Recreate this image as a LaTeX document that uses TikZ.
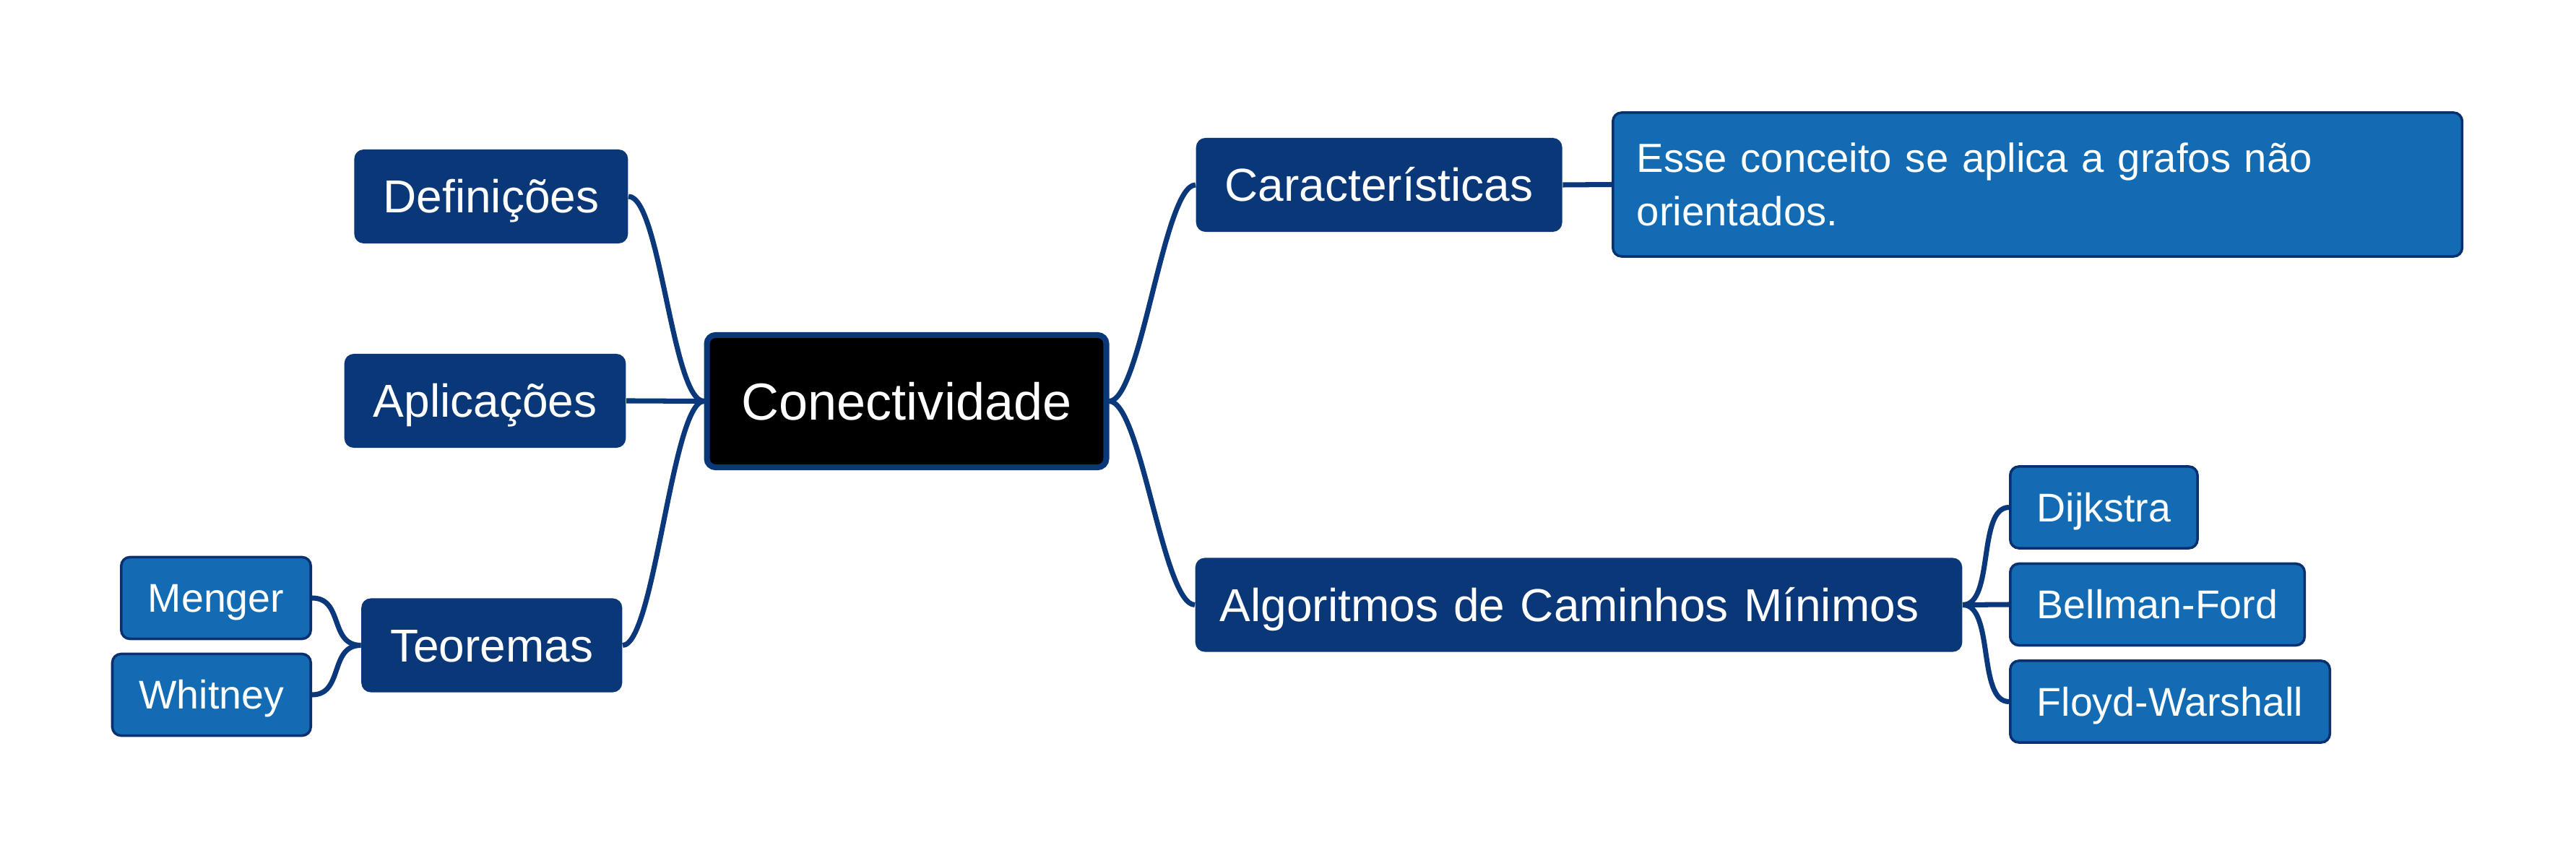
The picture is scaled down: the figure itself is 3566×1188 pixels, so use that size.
\documentclass[tikz,border=0pt]{standalone}
\usepackage{fontspec}
\setmainfont{Liberation Sans}
\definecolor{mapdark}{HTML}{0A3777}
\definecolor{mapmid}{HTML}{126BB3}
\definecolor{mapline}{HTML}{0B387A}
\definecolor{mapedge}{HTML}{0A3070}
\tikzset{
  rootbox/.style={draw=mapdark, line width=2.3pt, fill=black, rounded corners=0.12cm,
    text=white, font=\fontsize{20.5}{24}\selectfont, inner xsep=0.48cm,
    minimum height=1.83cm, text height=14.7pt, text depth=0pt},
  lvlone/.style={fill=mapdark, rounded corners=0.13cm, text=white,
    font=\fontsize{18.2}{22}\selectfont, inner xsep=0.40cm,
    minimum height=1.30cm, text height=13pt, text depth=0pt},
  lvltwo/.style={draw=mapedge, line width=1pt, fill=mapmid, rounded corners=0.12cm,
    text=white, font=\fontsize{15.8}{21.1}\selectfont, inner xsep=0.37cm,
    minimum height=1.13cm, text height=11.3pt, text depth=0pt},
  notebox/.style={lvltwo, font=\fontsize{16}{21.1}\selectfont, align=left,
    text width=11.09cm, inner xsep=0.33cm, minimum height=1.99cm,
    text height=11.5pt, text depth=21.1pt},
  branch/.style={draw=mapline, line width=2pt},
  toleft/.style={branch, out=180, in=0, out distance=0.44cm, in distance=0.44cm},
  toright/.style={branch, out=0, in=180, out distance=0.44cm, in distance=0.44cm}
}
\begin{document}
\begin{tikzpicture}[x=0.01cm, y=-0.01cm]
    \useasboundingbox (0,0) rectangle (3566,1188);
    \node[rootbox] (conect) at (1255,555.5) {Conectividade};
    \node[lvlone, anchor=east] (defin) at (870,272) {Definições};
    \node[lvlone, anchor=east] (aplic) at (867,555) {Aplicações};
    \node[lvlone, anchor=east] (teor) at (862,893.5) {Teoremas};
    \node[lvltwo, anchor=east] (menger) at (432,828) {Menger};
    \node[lvltwo, anchor=east] (whitney) at (432,962) {Whitney};
    \node[lvlone, anchor=west] (carac) at (1655,256) {Características};
    \node[notebox, anchor=west] (nota) at (2231,255.5) {Esse conceito se aplica a grafos não\\orientados.};
    \node[lvlone, anchor=west, align=left, text width=9.93cm, inner xsep=0.34cm] (algo) at (1654,837.5) {Algoritmos de Caminhos Mínimos};
    \node[lvltwo, anchor=west] (dijk) at (2781,702.5) {Dijkstra};
    \node[lvltwo, anchor=west] (bellman) at (2781,837) {Bellman-Ford};
    \node[lvltwo, anchor=west] (floyd) at (2781,971.5) {Floyd-Warshall};
    \draw[toleft] (conect.west) to (defin.east);
    \draw[toleft] (conect.west) to (aplic.east);
    \draw[toleft] (conect.west) to (teor.east);
    \draw[toleft] (teor.west) to (menger.east);
    \draw[toleft] (teor.west) to (whitney.east);
    \draw[toright] (conect.east) to (carac.west);
    \draw[toright] (conect.east) to (algo.west);
    \draw[branch] (carac.east) -- (nota.west);
    \draw[toright] (algo.east) to (dijk.west);
    \draw[branch] (algo.east) -- (bellman.west);
    \draw[toright] (algo.east) to (floyd.west);
\end{tikzpicture}
\end{document}
